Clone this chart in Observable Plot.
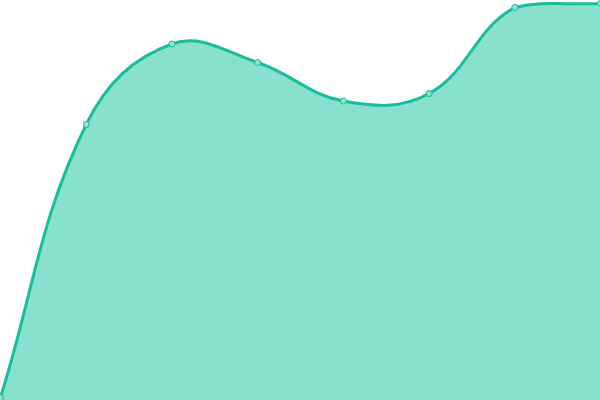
<!DOCTYPE html>
<html>
<head>
<meta charset="utf-8">
<script src="https://cdn.jsdelivr.net/npm/d3@7"></script>
<script src="https://cdn.jsdelivr.net/npm/@observablehq/plot@0.6"></script>
<style>
  html, body { margin: 0; padding: 0; background: #fff; overflow: hidden; }
</style>
</head>
<body>
<div id="chart"></div>
<script>
const xs = [0, 1, 2, 3, 4, 5, 6, 7];
const values = [3, 276, 356.5, 338, 299.5, 307, 393, 397];
const data = xs.map((x, i) => ({x, y: values[i]}));

const W = 600, H = 400, TENSION = 0.4;

// Spline curve with distance-weighted control points, capped to the plot area
function SplineCurve(context) { this._context = context; }
SplineCurve.prototype = {
  areaStart() { this._line = 0; },
  areaEnd() { this._line = NaN; },
  lineStart() { this._pts = []; },
  point(x, y) { this._pts.push([+x, +y]); },
  lineEnd() {
    const p = this._pts, n = p.length, c = this._context;
    if (n) {
      if (this._line) c.lineTo(p[0][0], p[0][1]); else c.moveTo(p[0][0], p[0][1]);
      if (n === 2) c.lineTo(p[1][0], p[1][1]);
      else if (n > 2) {
        const cap = (v, lo, hi) => Math.max(lo, Math.min(hi, v));
        const cps = p.map((cur, i) => {
          const prev = p[Math.max(0, i - 1)], next = p[Math.min(n - 1, i + 1)];
          const d01 = Math.hypot(cur[0] - prev[0], cur[1] - prev[1]);
          const d12 = Math.hypot(next[0] - cur[0], next[1] - cur[1]);
          let s01 = d01 / (d01 + d12), s12 = d12 / (d01 + d12);
          if (!isFinite(s01)) s01 = 0; if (!isFinite(s12)) s12 = 0;
          const fa = TENSION * s01, fb = TENSION * s12;
          const dx = next[0] - prev[0], dy = next[1] - prev[1];
          return {
            px: cap(cur[0] - fa * dx, 0, W), py: cap(cur[1] - fa * dy, 0, H),
            nx: cap(cur[0] + fb * dx, 0, W), ny: cap(cur[1] + fb * dy, 0, H)
          };
        });
        for (let i = 1; i < n; ++i) {
          c.bezierCurveTo(cps[i - 1].nx, cps[i - 1].ny, cps[i].px, cps[i].py, p[i][0], p[i][1]);
        }
      }
      if (this._line || (this._line !== 0 && n === 1)) c.closePath();
    }
    this._line = 1 - this._line;
  }
};
const splineCurve = (context) => new SplineCurve(context);

const chart = Plot.plot({
  width: W,
  height: H,
  margin: 0,
  x: {domain: [0, 7], axis: null},
  y: {domain: [0, 400], axis: null},
  marks: [
    Plot.areaY(data, {x: "x", y: "y", curve: splineCurve, fill: "#88e0cf"}),
    Plot.lineY(data, {x: "x", y: "y", curve: splineCurve, stroke: "#1abc9c", strokeWidth: 3}),
    Plot.dot(data, {x: "x", y: "y", r: 3, fill: "#8ee3d2", stroke: "#1abc9c", strokeWidth: 1})
  ]
});
document.getElementById("chart").appendChild(chart);
</script>
</body>
</html>
